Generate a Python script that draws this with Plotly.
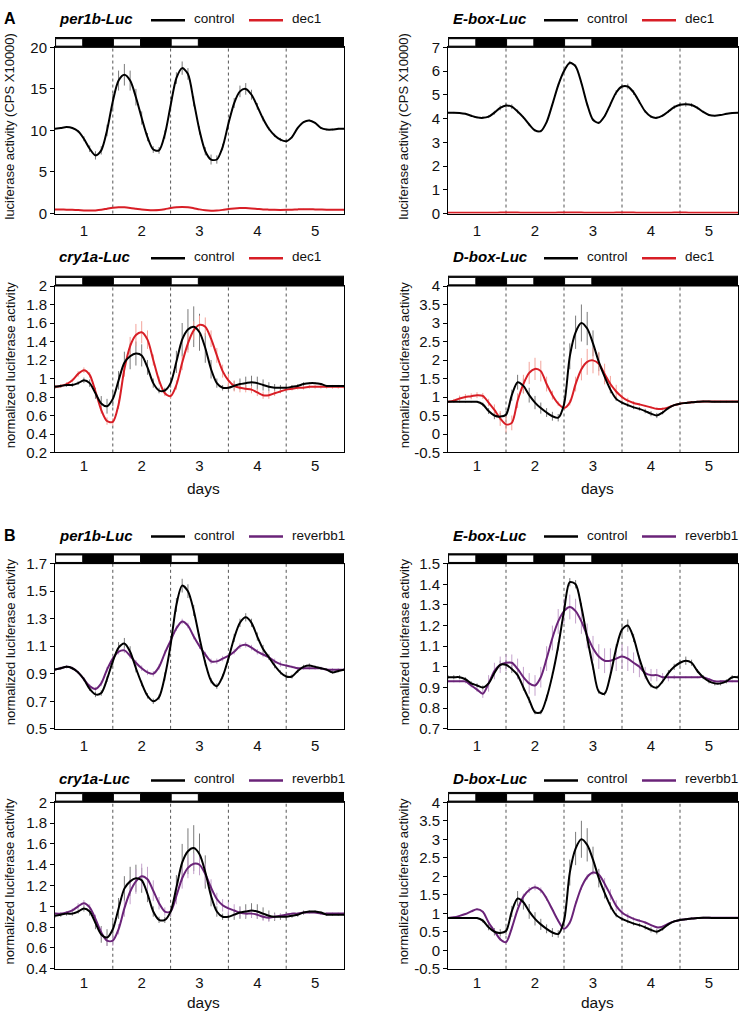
import plotly.graph_objects as go

W, H = 742, 1022

# ---------------- data (days, values) ----------------
days = [0.5, 0.6, 0.7, 0.8, 0.9, 1.0, 1.1, 1.2, 1.3, 1.4, 1.5, 1.6, 1.7, 1.8, 1.9,
        2.0, 2.1, 2.2, 2.3, 2.4, 2.5, 2.6, 2.7, 2.8, 2.9, 3.0, 3.1, 3.2, 3.3, 3.4,
        3.5, 3.6, 3.7, 3.8, 3.9, 4.0, 4.1, 4.2, 4.3, 4.4, 4.5, 4.6, 4.7, 4.8, 4.9,
        5.0, 5.1, 5.2, 5.3, 5.4, 5.5]
day_ticks = [1, 2, 3, 4, 5]
light_periods = [(0.5, 0.98), (1.5, 1.98), (2.5, 2.98)]
zt_lines = [1.5, 2.5, 3.5, 4.5]

# A: per1b-Luc (CPS x10000)
per1b_ctrl_A = [10.2, 10.3, 10.4, 10.3, 9.9, 9.0, 7.8, 7.0, 7.6, 10.0, 13.5, 16.0, 16.7, 16.0, 14.0,
                11.5, 9.2, 7.7, 7.6, 9.5, 13.0, 16.3, 17.5, 16.8, 13.5, 10.0, 7.5, 6.5, 6.5, 8.0,
                10.8, 13.3, 14.7, 15.0, 14.3, 12.9, 11.4, 10.2, 9.4, 8.9, 8.7, 9.2, 10.3, 11.0, 11.2,
                10.9, 10.3, 10.1, 10.1, 10.2, 10.2]
per1b_ctrl_A_err = [0.1, 0.1, 0.1, 0.1, 0.15, 0.3, 0.4, 0.5, 0.5, 0.7, 0.9, 1.2, 1.3, 1.2, 1.0,
                    0.8, 0.5, 0.4, 0.4, 0.5, 0.6, 0.7, 0.8, 0.7, 0.6, 0.5, 0.5, 0.6, 0.5, 0.4,
                    0.5, 0.6, 0.7, 0.7, 0.6, 0.4, 0.3, 0.2, 0.2, 0.2, 0.2, 0.15, 0.1, 0.1, 0.1,
                    0.1, 0.1, 0.1, 0.1, 0.1, 0.1]
per1b_dec1 = [0.48, 0.48, 0.47, 0.45, 0.42, 0.38, 0.36, 0.38, 0.45, 0.58, 0.70, 0.76, 0.75, 0.68, 0.58,
              0.48, 0.42, 0.40, 0.42, 0.52, 0.66, 0.76, 0.80, 0.76, 0.64, 0.50, 0.40, 0.35, 0.36, 0.44,
              0.55, 0.62, 0.66, 0.66, 0.62, 0.56, 0.50, 0.47, 0.45, 0.44, 0.45, 0.47, 0.50, 0.52, 0.52,
              0.50, 0.48, 0.46, 0.46, 0.46, 0.46]
per1b_dec1_err = [0.05] * 51

# A: E-box-Luc (CPS x10000)
ebox_ctrl_A = [4.25, 4.25, 4.24, 4.20, 4.12, 4.05, 4.03, 4.08, 4.25, 4.45, 4.55, 4.50, 4.30, 4.05, 3.75,
               3.50, 3.47, 3.85, 4.60, 5.40, 6.00, 6.35, 6.20, 5.50, 4.60, 3.95, 3.82, 4.10, 4.60, 5.10,
               5.35, 5.35, 5.10, 4.70, 4.30, 4.08, 4.03, 4.12, 4.30, 4.48, 4.58, 4.60, 4.57, 4.45, 4.28,
               4.15, 4.12, 4.15, 4.20, 4.24, 4.25]
ebox_ctrl_A_err = [0.03, 0.03, 0.03, 0.03, 0.04, 0.05, 0.05, 0.06, 0.08, 0.1, 0.1, 0.1, 0.08, 0.06, 0.05,
                   0.05, 0.05, 0.05, 0.06, 0.07, 0.08, 0.08, 0.08, 0.07, 0.06, 0.05, 0.05, 0.06, 0.08, 0.1,
                   0.12, 0.12, 0.1, 0.08, 0.06, 0.05, 0.05, 0.05, 0.06, 0.08, 0.1, 0.1, 0.08, 0.06, 0.05,
                   0.04, 0.03, 0.03, 0.03, 0.03, 0.03]
ebox_dec1 = [0.03, 0.03, 0.03, 0.03, 0.03, 0.03, 0.03, 0.03, 0.03, 0.04, 0.04, 0.04, 0.04, 0.03, 0.03,
             0.03, 0.03, 0.03, 0.03, 0.04, 0.04, 0.04, 0.04, 0.04, 0.03, 0.03, 0.03, 0.03, 0.03, 0.04,
             0.04, 0.04, 0.04, 0.03, 0.03, 0.03, 0.03, 0.03, 0.03, 0.04, 0.04, 0.04, 0.03, 0.03, 0.03,
             0.03, 0.03, 0.03, 0.03, 0.03, 0.03]
ebox_dec1_err = [0.01] * 51

# cry1a-Luc control (normalized; same control in A and B)
cry1a_ctrl = [0.91, 0.92, 0.93, 0.93, 0.95, 0.98, 0.95, 0.84, 0.73, 0.70, 0.78, 0.98, 1.17, 1.24, 1.27,
              1.25, 1.12, 0.95, 0.87, 0.87, 0.95, 1.18, 1.42, 1.53, 1.56, 1.50, 1.33, 1.10, 0.95, 0.90,
              0.90, 0.92, 0.94, 0.95, 0.96, 0.95, 0.93, 0.91, 0.90, 0.90, 0.90, 0.91, 0.92, 0.94, 0.95,
              0.95, 0.94, 0.92, 0.92, 0.92, 0.92]
cry1a_ctrl_err = [0.02, 0.02, 0.02, 0.02, 0.02, 0.03, 0.04, 0.06, 0.08, 0.08, 0.08, 0.1, 0.12, 0.14, 0.13,
                  0.12, 0.08, 0.05, 0.03, 0.03, 0.05, 0.12, 0.18, 0.22, 0.22, 0.2, 0.16, 0.1, 0.05, 0.03,
                  0.03, 0.05, 0.06, 0.07, 0.07, 0.07, 0.06, 0.05, 0.04, 0.03, 0.02, 0.02, 0.02, 0.02, 0.01,
                  0.01, 0.01, 0.01, 0.01, 0.01, 0.01]
cry1a_dec1 = [0.91, 0.92, 0.94, 0.98, 1.05, 1.09, 1.04, 0.86, 0.66, 0.54, 0.53, 0.72, 1.10, 1.35, 1.47,
              1.50, 1.42, 1.20, 0.98, 0.84, 0.81, 0.93, 1.17, 1.38, 1.52, 1.58, 1.56, 1.43, 1.25, 1.08,
              0.98, 0.92, 0.90, 0.89, 0.88, 0.85, 0.82, 0.82, 0.84, 0.86, 0.88, 0.89, 0.90, 0.90, 0.91,
              0.91, 0.91, 0.91, 0.91, 0.91, 0.91]
cry1a_dec1_err = [0.02, 0.02, 0.02, 0.02, 0.03, 0.03, 0.03, 0.03, 0.04, 0.04, 0.04, 0.05, 0.08, 0.1, 0.12,
                  0.12, 0.1, 0.06, 0.04, 0.03, 0.03, 0.05, 0.08, 0.1, 0.1, 0.1, 0.1, 0.09, 0.08, 0.07,
                  0.07, 0.06, 0.05, 0.04, 0.04, 0.04, 0.04, 0.04, 0.03, 0.02, 0.02, 0.02, 0.02, 0.02, 0.02,
                  0.02, 0.02, 0.02, 0.02, 0.02, 0.02]

# D-box-Luc control (normalized; same control in A and B)
dbox_ctrl = [0.87, 0.87, 0.87, 0.87, 0.87, 0.87, 0.80, 0.62, 0.50, 0.47, 0.52, 1.05, 1.40, 1.30, 1.05,
             0.85, 0.70, 0.58, 0.48, 0.44, 0.80, 2.10, 2.75, 3.00, 2.85, 2.45, 1.95, 1.55, 1.20, 0.95,
             0.85, 0.78, 0.72, 0.68, 0.62, 0.55, 0.50, 0.58, 0.70, 0.78, 0.82, 0.84, 0.86, 0.87, 0.88,
             0.88, 0.87, 0.87, 0.87, 0.87, 0.87]
dbox_ctrl_err = [0.02, 0.02, 0.02, 0.02, 0.02, 0.02, 0.05, 0.08, 0.1, 0.1, 0.1, 0.15, 0.2, 0.2, 0.2,
                 0.18, 0.15, 0.12, 0.12, 0.1, 0.15, 0.35, 0.45, 0.5, 0.45, 0.35, 0.25, 0.15, 0.1, 0.06,
                 0.05, 0.05, 0.05, 0.05, 0.06, 0.07, 0.07, 0.05, 0.03, 0.02, 0.02, 0.02, 0.02, 0.02, 0.02,
                 0.02, 0.02, 0.02, 0.02, 0.02, 0.02]
dbox_dec1 = [0.87, 0.90, 0.96, 1.00, 1.02, 1.05, 1.03, 0.85, 0.65, 0.42, 0.26, 0.30, 0.90, 1.35, 1.65,
             1.76, 1.70, 1.35, 1.05, 0.82, 0.70, 0.85, 1.35, 1.75, 1.95, 1.99, 1.90, 1.62, 1.35, 1.15,
             1.00, 0.90, 0.84, 0.80, 0.76, 0.72, 0.68, 0.68, 0.72, 0.78, 0.82, 0.84, 0.86, 0.87, 0.88,
             0.88, 0.88, 0.88, 0.88, 0.88, 0.88]
dbox_dec1_err = [0.02, 0.05, 0.08, 0.08, 0.08, 0.08, 0.08, 0.1, 0.15, 0.2, 0.22, 0.2, 0.2, 0.25, 0.3,
                 0.3, 0.28, 0.2, 0.12, 0.06, 0.04, 0.08, 0.2, 0.3, 0.35, 0.35, 0.32, 0.28, 0.22, 0.18,
                 0.12, 0.08, 0.05, 0.04, 0.03, 0.03, 0.03, 0.03, 0.02, 0.02, 0.02, 0.02, 0.02, 0.02, 0.02,
                 0.02, 0.02, 0.02, 0.02, 0.02, 0.02]

# B: per1b-Luc (normalized)
per1b_ctrl_B = [0.93, 0.94, 0.95, 0.94, 0.91, 0.86, 0.79, 0.75, 0.76, 0.86, 0.99, 1.09, 1.12, 1.06, 0.94,
                0.83, 0.74, 0.70, 0.73, 0.88, 1.11, 1.40, 1.54, 1.50, 1.36, 1.16, 0.98, 0.85, 0.81, 0.88,
                1.01, 1.16, 1.27, 1.31, 1.27, 1.17, 1.08, 1.02, 0.96, 0.91, 0.88, 0.88, 0.92, 0.95, 0.96,
                0.95, 0.94, 0.93, 0.91, 0.92, 0.93]
per1b_ctrl_B_err = [0.01, 0.01, 0.01, 0.01, 0.01, 0.015, 0.015, 0.02, 0.02, 0.02, 0.03, 0.04, 0.04, 0.04, 0.03,
                    0.02, 0.02, 0.02, 0.02, 0.03, 0.04, 0.05, 0.05, 0.05, 0.04, 0.03, 0.02, 0.02, 0.02, 0.02,
                    0.02, 0.03, 0.03, 0.03, 0.03, 0.03, 0.03, 0.02, 0.02, 0.015, 0.015, 0.015, 0.015, 0.015, 0.015,
                    0.01, 0.01, 0.01, 0.01, 0.01, 0.01]
per1b_rev = [0.93, 0.94, 0.95, 0.94, 0.91, 0.86, 0.81, 0.79, 0.83, 0.93, 1.01, 1.06, 1.07, 1.03, 0.98,
             0.94, 0.91, 0.90, 0.95, 1.05, 1.14, 1.23, 1.28, 1.25, 1.17, 1.10, 1.04, 0.99, 0.99, 1.01,
             1.03, 1.06, 1.10, 1.11, 1.09, 1.06, 1.04, 1.02, 0.99, 0.97, 0.96, 0.95, 0.94, 0.94, 0.94,
             0.94, 0.94, 0.93, 0.93, 0.93, 0.93]
per1b_rev_err = [0.01, 0.01, 0.01, 0.01, 0.01, 0.01, 0.015, 0.015, 0.02, 0.02, 0.02, 0.02, 0.02, 0.02, 0.02,
                 0.02, 0.02, 0.02, 0.02, 0.02, 0.02, 0.02, 0.02, 0.02, 0.02, 0.02, 0.02, 0.02, 0.02, 0.02,
                 0.02, 0.02, 0.02, 0.02, 0.02, 0.02, 0.02, 0.02, 0.02, 0.02, 0.015, 0.01, 0.01, 0.01, 0.01,
                 0.01, 0.01, 0.01, 0.01, 0.01, 0.01]

# B: E-box-Luc (normalized)
ebox_ctrl_B = [0.95, 0.95, 0.95, 0.94, 0.92, 0.91, 0.90, 0.92, 0.97, 1.01, 1.01, 0.99, 0.96, 0.90, 0.84,
               0.78, 0.78, 0.85, 0.96, 1.10, 1.27, 1.41, 1.40, 1.29, 1.14, 1.00, 0.88, 0.87, 0.96, 1.09,
               1.18, 1.20, 1.14, 1.04, 0.96, 0.91, 0.90, 0.93, 0.97, 1.00, 1.02, 1.03, 1.02, 0.98, 0.95,
               0.93, 0.92, 0.92, 0.93, 0.95, 0.95]
ebox_ctrl_B_err = [0.01, 0.01, 0.01, 0.01, 0.01, 0.01, 0.01, 0.015, 0.015, 0.02, 0.02, 0.02, 0.015, 0.015, 0.015,
                   0.01, 0.01, 0.015, 0.015, 0.02, 0.02, 0.02, 0.02, 0.02, 0.015, 0.015, 0.01, 0.01, 0.015, 0.02,
                   0.03, 0.03, 0.02, 0.015, 0.01, 0.01, 0.01, 0.01, 0.015, 0.015, 0.015, 0.02, 0.015, 0.01, 0.01,
                   0.01, 0.01, 0.01, 0.01, 0.01, 0.01]
ebox_rev = [0.93, 0.93, 0.93, 0.93, 0.91, 0.89, 0.87, 0.92, 0.98, 1.01, 1.02, 1.02, 0.99, 0.95, 0.92,
            0.91, 0.95, 1.04, 1.14, 1.22, 1.27, 1.29, 1.27, 1.22, 1.15, 1.09, 1.05, 1.03, 1.03, 1.04,
            1.05, 1.04, 1.02, 1.00, 0.97, 0.96, 0.96, 0.95, 0.95, 0.95, 0.95, 0.95, 0.95, 0.95, 0.95,
            0.94, 0.93, 0.93, 0.93, 0.93, 0.93]
ebox_rev_err = [0.005, 0.005, 0.005, 0.01, 0.01, 0.01, 0.02, 0.04, 0.04, 0.04, 0.04, 0.04, 0.05, 0.05, 0.05,
                0.05, 0.05, 0.06, 0.06, 0.06, 0.06, 0.06, 0.06, 0.06, 0.06, 0.06, 0.06, 0.06, 0.06, 0.06,
                0.06, 0.06, 0.05, 0.05, 0.03, 0.03, 0.03, 0.02, 0.02, 0.01, 0.005, 0.005, 0.005, 0.005, 0.005,
                0.005, 0.005, 0.005, 0.005, 0.005, 0.005]

# B: cry1a-Luc reverbb1
cry1a_rev = [0.93, 0.93, 0.94, 0.96, 1.00, 1.03, 0.99, 0.88, 0.75, 0.67, 0.67, 0.78, 0.98, 1.14, 1.24,
             1.29, 1.26, 1.15, 1.03, 0.95, 0.95, 1.10, 1.27, 1.37, 1.41, 1.40, 1.31, 1.18, 1.07, 1.01,
             0.98, 0.96, 0.94, 0.93, 0.93, 0.92, 0.90, 0.89, 0.90, 0.91, 0.92, 0.93, 0.93, 0.94, 0.94,
             0.94, 0.93, 0.93, 0.93, 0.93, 0.93]
cry1a_rev_err = [0.01, 0.01, 0.01, 0.02, 0.03, 0.03, 0.03, 0.04, 0.05, 0.05, 0.05, 0.05, 0.08, 0.12, 0.12,
                 0.12, 0.12, 0.1, 0.06, 0.04, 0.04, 0.08, 0.1, 0.1, 0.1, 0.1, 0.1, 0.08, 0.06, 0.06,
                 0.06, 0.06, 0.05, 0.04, 0.04, 0.04, 0.04, 0.04, 0.03, 0.02, 0.01, 0.01, 0.01, 0.01, 0.01,
                 0.01, 0.01, 0.01, 0.01, 0.01, 0.01]

# B: D-box-Luc reverbb1
dbox_rev = [0.87, 0.89, 0.93, 0.98, 1.05, 1.11, 1.04, 0.75, 0.52, 0.30, 0.22, 0.60, 1.10, 1.45, 1.63,
            1.70, 1.62, 1.40, 1.10, 0.80, 0.58, 0.75, 1.25, 1.70, 1.98, 2.10, 2.05, 1.80, 1.50, 1.20,
            1.02, 0.92, 0.85, 0.80, 0.75, 0.68, 0.62, 0.64, 0.72, 0.78, 0.82, 0.84, 0.86, 0.87, 0.88,
            0.88, 0.88, 0.88, 0.88, 0.88, 0.88]
dbox_rev_err = [0.02, 0.02, 0.02, 0.02, 0.02, 0.02, 0.02, 0.05, 0.05, 0.05, 0.05, 0.05, 0.06, 0.08, 0.08,
                0.08, 0.08, 0.06, 0.05, 0.04, 0.04, 0.05, 0.07, 0.07, 0.07, 0.07, 0.1, 0.15, 0.15, 0.15,
                0.12, 0.08, 0.05, 0.04, 0.03, 0.03, 0.03, 0.03, 0.02, 0.02, 0.02, 0.02, 0.02, 0.02, 0.02,
                0.02, 0.02, 0.02, 0.02, 0.02, 0.02]

# tick labels
ticks_A1 = [0, 5, 10, 15, 20]
ticks_A2 = [0, 1, 2, 3, 4, 5, 6, 7]
ticks_cryA = [0.2, 0.4, 0.6, 0.8, 1.0, 1.2, 1.4, 1.6, 1.8, 2.0]
ticks_cryA_txt = ["0.2", "0.4", "0.6", "0.8", "1", "1.2", "1.4", "1.6", "1.8", "2"]
ticks_dbox = [-0.5, 0, 0.5, 1, 1.5, 2, 2.5, 3, 3.5, 4]
ticks_dbox_txt = ["-0.5", "0", "0.5", "1", "1.5", "2", "2.5", "3", "3.5", "4"]
ticks_perB = [0.5, 0.7, 0.9, 1.1, 1.3, 1.5, 1.7]
ticks_perB_txt = ["0.5", "0.7", "0.9", "1.1", "1.3", "1.5", "1.7"]
ticks_eboxB = [0.7, 0.8, 0.9, 1.0, 1.1, 1.2, 1.3, 1.4, 1.5]
ticks_eboxB_txt = ["0.7", "0.8", "0.9", "1", "1.1", "1.2", "1.3", "1.4", "1.5"]
ticks_cryB = [0.4, 0.6, 0.8, 1.0, 1.2, 1.4, 1.6, 1.8, 2.0]
ticks_cryB_txt = ["0.4", "0.6", "0.8", "1", "1.2", "1.4", "1.6", "1.8", "2"]

# ---------------- styling ----------------
FONT = "Liberation Sans, Arial, Helvetica, sans-serif"
BLACK = "#000000"
BLACK_ERR = "#7a7a7a"
RED = "#d81e26"
RED_ERR = "#f3a39a"
PURPLE = "#6a2378"
PURPLE_ERR = "#c4a2cc"

rows_px = [(39, 208), (281.7, 451), (564, 732), (806.7, 976)]
cols_px = [(55, 344), (448, 738)]
title_y_px = [10, 252, 535, 783]
ticklen_x = [3, 0, 3, 0]

def px_x(p):
    return p / W

def px_y(p):
    return 1 - p / H

panels = [
    dict(row=0, col=0, gene="per1b-Luc", ctrl=per1b_ctrl_A, ctrl_err=per1b_ctrl_A_err,
         trt=per1b_dec1, trt_err=per1b_dec1_err, trt_name="dec1", c=RED, ce=RED_ERR,
         yr=[0, 20], tv=ticks_A1, tt=[str(v) for v in ticks_A1], yt="luciferase activity (CPS X10000)"),
    dict(row=0, col=1, gene="E-box-Luc", ctrl=ebox_ctrl_A, ctrl_err=ebox_ctrl_A_err,
         trt=ebox_dec1, trt_err=ebox_dec1_err, trt_name="dec1", c=RED, ce=RED_ERR,
         yr=[0, 7], tv=ticks_A2, tt=[str(v) for v in ticks_A2], yt="luciferase activity (CPS X10000)"),
    dict(row=1, col=0, gene="cry1a-Luc", ctrl=cry1a_ctrl, ctrl_err=cry1a_ctrl_err,
         trt=cry1a_dec1, trt_err=cry1a_dec1_err, trt_name="dec1", c=RED, ce=RED_ERR,
         yr=[0.2, 2.0], tv=ticks_cryA, tt=ticks_cryA_txt, yt="normalized luciferase activity"),
    dict(row=1, col=1, gene="D-box-Luc", ctrl=dbox_ctrl, ctrl_err=dbox_ctrl_err,
         trt=dbox_dec1, trt_err=dbox_dec1_err, trt_name="dec1", c=RED, ce=RED_ERR,
         yr=[-0.5, 4], tv=ticks_dbox, tt=ticks_dbox_txt, yt="normalized luciferase activity"),
    dict(row=2, col=0, gene="per1b-Luc", ctrl=per1b_ctrl_B, ctrl_err=per1b_ctrl_B_err,
         trt=per1b_rev, trt_err=per1b_rev_err, trt_name="reverbb1", c=PURPLE, ce=PURPLE_ERR,
         yr=[0.5, 1.7], tv=ticks_perB, tt=ticks_perB_txt, yt="normalized luciferase activity"),
    dict(row=2, col=1, gene="E-box-Luc", ctrl=ebox_ctrl_B, ctrl_err=ebox_ctrl_B_err,
         trt=ebox_rev, trt_err=ebox_rev_err, trt_name="reverbb1", c=PURPLE, ce=PURPLE_ERR,
         yr=[0.7, 1.5], tv=ticks_eboxB, tt=ticks_eboxB_txt, yt="normalized luciferase activity"),
    dict(row=3, col=0, gene="cry1a-Luc", ctrl=cry1a_ctrl, ctrl_err=cry1a_ctrl_err,
         trt=cry1a_rev, trt_err=cry1a_rev_err, trt_name="reverbb1", c=PURPLE, ce=PURPLE_ERR,
         yr=[0.4, 2.0], tv=ticks_cryB, tt=ticks_cryB_txt, yt="normalized luciferase activity"),
    dict(row=3, col=1, gene="D-box-Luc", ctrl=dbox_ctrl, ctrl_err=dbox_ctrl_err,
         trt=dbox_rev, trt_err=dbox_rev_err, trt_name="reverbb1", c=PURPLE, ce=PURPLE_ERR,
         yr=[-0.5, 4], tv=ticks_dbox, tt=ticks_dbox_txt, yt="normalized luciferase activity"),
]

fig = go.Figure()
layout = {}
shapes = []
annotations = []

for i, p in enumerate(panels):
    k = i + 1
    xa = "x" if k == 1 else f"x{k}"
    ya = "y" if k == 1 else f"y{k}"
    top, bot = rows_px[p["row"]]
    left, right = cols_px[p["col"]]

    # error bars first (behind lines)
    for vals, err, ecol in [(p["ctrl"], p["ctrl_err"], BLACK_ERR), (p["trt"], p["trt_err"], p["ce"])]:
        fig.add_trace(go.Scatter(
            x=days, y=vals, xaxis=xa, yaxis=ya, mode="markers",
            marker=dict(size=1, color="rgba(0,0,0,0)"),
            error_y=dict(type="data", array=err, visible=True, color=ecol, thickness=1, width=0),
            showlegend=False, hoverinfo="skip"))
    # treatment then control lines
    fig.add_trace(go.Scatter(x=days, y=p["trt"], xaxis=xa, yaxis=ya, mode="lines",
                             line=dict(color=p["c"], width=2, shape="spline", smoothing=0.8),
                             showlegend=False, name=p["trt_name"]))
    fig.add_trace(go.Scatter(x=days, y=p["ctrl"], xaxis=xa, yaxis=ya, mode="lines",
                             line=dict(color=BLACK, width=2, shape="spline", smoothing=0.8),
                             showlegend=False, name="control"))

    xkey = "xaxis" if k == 1 else f"xaxis{k}"
    ykey = "yaxis" if k == 1 else f"yaxis{k}"
    layout[xkey] = dict(domain=[px_x(left), px_x(right)], anchor=ya, range=[0.5, 5.5],
                        showgrid=False, zeroline=False, showline=True, mirror=True,
                        linecolor=BLACK, linewidth=1, tickvals=day_ticks,
                        ticks="outside", ticklen=ticklen_x[p["row"]], tickcolor="rgba(0,0,0,0)",
                        tickfont=dict(size=15, family=FONT, color="#111"), layer="below traces")
    layout[ykey] = dict(domain=[px_y(bot), px_y(top)], anchor=xa, range=p["yr"],
                        showgrid=False, zeroline=False, showline=True, mirror=True,
                        linecolor=BLACK, linewidth=1, tickvals=p["tv"], ticktext=p["tt"],
                        ticks="outside", ticklen=4, tickcolor=BLACK,
                        tickfont=dict(size=15, family=FONT, color="#111"))

    # dotted day boundaries
    for xv in zt_lines:
        shapes.append(dict(type="line", xref=xa, yref=f"{ya} domain", x0=xv, x1=xv, y0=0, y1=1,
                           line=dict(color="#555", width=1, dash="dot"), layer="below"))
    # light/dark bar
    bar_h = 10 / (bot - top)
    shapes.append(dict(type="rect", xref=xa, yref=f"{ya} domain", x0=0.5, x1=5.5, y0=1.0, y1=1.0 + bar_h,
                       fillcolor=BLACK, line=dict(color=BLACK, width=1)))
    for (a, b) in light_periods:
        shapes.append(dict(type="rect", xref=xa, yref=f"{ya} domain", x0=a + 0.01, x1=b,
                           y0=1.0 + 0.12 * bar_h, y1=1.0 + 0.88 * bar_h,
                           fillcolor="white", line=dict(color=BLACK, width=1)))

    # title + legend
    ty = px_y(title_y_px[p["row"]])
    gx = 57 if p["col"] == 0 else 451
    annotations.append(dict(text=f"<b><i>{p['gene']}</i></b>", x=px_x(gx), y=ty, xref="paper", yref="paper",
                            xanchor="left", yanchor="middle", showarrow=False,
                            font=dict(size=15, family=FONT, color=BLACK)))
    l1 = 151 if p["col"] == 0 else 544
    for dx, col, name in [(0, BLACK, "control"), (98, p["c"], p["trt_name"])]:
        shapes.append(dict(type="line", xref="paper", yref="paper",
                           x0=px_x(l1 + dx), x1=px_x(l1 + dx + 34), y0=ty - 1.5 / H, y1=ty - 1.5 / H,
                           line=dict(color=col, width=2.5)))
        annotations.append(dict(text=name, x=px_x(l1 + dx + 41), y=ty, xref="paper", yref="paper",
                                xanchor="left", yanchor="middle", showarrow=False,
                                font=dict(size=13.5, family=FONT, color="#111")))
    # y-axis title
    yx = 10 if p["col"] == 0 else 404
    annotations.append(dict(text=p["yt"], x=px_x(yx), y=px_y((top + bot) / 2 - 4), xref="paper", yref="paper",
                            xanchor="center", yanchor="middle", textangle=-90, showarrow=False,
                            font=dict(size=13, family=FONT, color="#111")))
    # "days"
    if p["row"] in (1, 3):
        dy = 488 if p["row"] == 1 else 1010
        annotations.append(dict(text="days", x=px_x((left + right) / 2 + 4), y=px_y(dy), xref="paper",
                                yref="paper", xanchor="center", yanchor="middle", showarrow=False,
                                font=dict(size=15.5, family=FONT, color="#111")))

# panel letters
annotations.append(dict(text="<b>A</b>", x=px_x(2), y=px_y(10), xref="paper", yref="paper",
                        xanchor="left", yanchor="middle", showarrow=False, font=dict(size=16, family=FONT, color=BLACK)))
annotations.append(dict(text="<b>B</b>", x=px_x(2), y=px_y(535), xref="paper", yref="paper",
                        xanchor="left", yanchor="middle", showarrow=False, font=dict(size=16, family=FONT, color=BLACK)))

fig.update_layout(width=W, height=H, margin=dict(l=0, r=0, t=0, b=0), autosize=False,
                  paper_bgcolor="white", plot_bgcolor="white", showlegend=False,
                  shapes=shapes, annotations=annotations, **layout)

fig.write_html("out.html", config={"displayModeBar": False},
               post_script="document.body.style.margin='0';")
